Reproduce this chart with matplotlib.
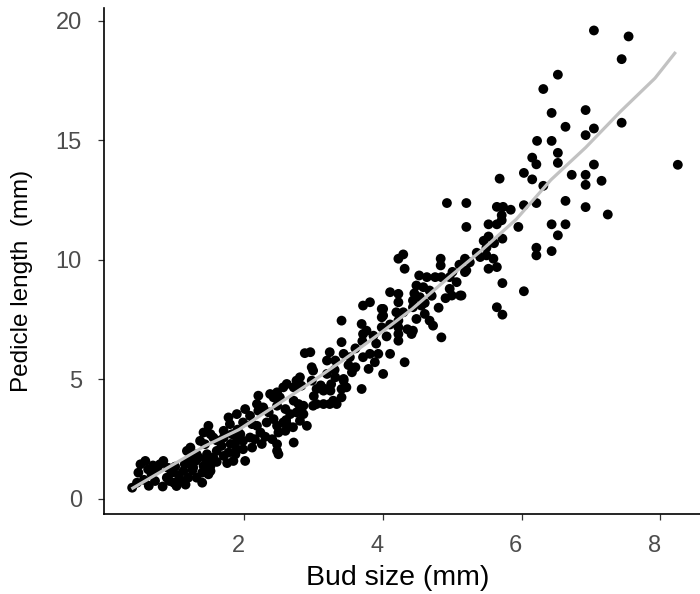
import matplotlib
matplotlib.use("Agg")
import matplotlib.pyplot as plt
import matplotlib.transforms as mtransforms

# Bud size (mm) and pedicle length (mm)
points = [
    (7.04,19.6),(7.54,19.35),(7.44,18.4),(6.52,17.75),(6.31,17.15),(6.43,16.15),(6.92,16.27),(6.63,15.57),
    (7.04,15.5),(6.92,15.22),(7.44,15.74),(6.22,14.98),(6.43,14.98),(6.52,14.48),(6.52,14.06),(6.15,14.28),
    (6.21,14.0),(7.04,13.99),(8.25,13.98),(6.03,13.64),(6.15,13.37),(6.72,13.56),(6.92,13.56),(6.92,13.14),
    (7.15,13.31),(6.31,13.1),(5.68,13.4),(6.03,12.29),(6.21,12.38),(6.63,12.47),(6.92,12.21),(7.24,11.9),
    (5.95,11.38),(6.43,11.49),(6.63,11.49),(6.52,11.03),
    (5.2,12.38),(5.64,12.22),(5.73,12.22),(5.84,12.1),(5.71,11.87),(5.71,11.66),(5.2,11.38),(5.52,11.49),
    (5.64,11.49),(5.52,10.98),(5.72,10.89),(6.21,10.51),(6.21,10.19),(6.43,10.37),(5.49,10.51),(5.49,10.19),
    (5.59,10.05),(5.64,9.7),(5.52,9.63),(5.4,10.12),(5.18,10.05),(5.18,9.49),(5.25,9.9),(5.72,9.03),
    (6.03,8.69),(5.13,8.51),(5.64,8.02),(5.72,7.71),(4.92,12.38),
    (4.29,10.23),(4.22,10.05),(4.31,9.63),(4.83,10.05),(4.83,9.77),
    (4.52,9.35),(4.63,9.28),(4.75,9.28),(4.84,9.28),(4.48,8.93),(4.58,8.86),(4.67,8.72),(4.53,8.44),(4.43,8.3),
    (4.96,9.28),(5.06,9.07),(4.96,8.79),(4.99,8.51),(5.11,8.51),(5.2,9.56),
    (4.1,8.65),(4.22,8.58),(4.22,8.23),(4.29,7.81),(4.19,7.81),(4.0,7.95),(4.0,7.67),(4.22,7.46),
    (4.43,8.02),(4.55,8.09),(4.6,7.74),(4.48,7.53),(4.67,7.46),(4.72,7.25),(4.43,7.04),(4.22,6.9),(4.84,6.76),
    (3.4,7.46),(3.71,8.09),(3.81,8.23),(3.98,7.95),(3.98,7.6),
    (3.69,7.32),(3.76,7.04),(3.71,6.9),(3.86,6.83),(3.98,7.18),(4.22,7.18),(4.22,6.62),(4.41,6.9),
    (3.4,6.56),(3.23,6.14),(3.19,5.79),(3.31,5.79),(3.43,6.07),(3.52,5.93),(3.6,5.51),(3.71,5.93),
    (3.81,6.07),(3.93,6.07),(3.88,5.72),(3.79,5.44),(4.0,5.23),(4.1,6.07),(4.31,5.72),
    (3.19,5.23),(3.31,5.09),(3.43,5.02),(3.4,4.6),(3.47,4.67),(3.16,4.6),(3.14,4.53),(3.69,4.6),(3.55,5.3),(3.4,4.25),
    (2.95,6.14),(2.87,6.1),(2.97,5.51),(2.99,5.37),(2.8,5.09),(2.75,4.95),(2.97,4.95),(2.71,4.67),(2.61,4.81),(2.56,4.67),
    (3.43,4.95),(3.28,4.11),(3.14,3.97),(2.99,3.9),(2.85,3.9),(2.71,4.11),(2.59,3.76),(2.66,3.55),(2.8,3.27),(2.9,3.06),(2.61,3.13),
    (2.2,4.32),(2.47,4.46),(2.42,4.25),(2.51,4.25),(2.82,4.74),(3.04,4.6),(3.24,4.53),
    (2.78,3.97),(3.04,3.97),(3.23,3.97),(3.33,3.97),
    (2.75,3.62),(2.85,3.55),(2.56,3.2),
    (2.01,3.76),(1.89,3.55),(2.08,3.48),(2.2,3.69),(2.27,3.83),(2.35,3.62),(2.42,3.34),(2.32,3.2),(2.18,3.06),
    (2.23,2.78),(2.08,2.57),(1.98,2.43),(1.89,2.43),(2.11,2.15),(1.98,2.08),(1.87,1.87),(2.01,1.59),(2.47,3.06),
    (2.49,2.78),(2.59,2.85),(2.71,2.36),(2.47,2.01),
    (2.37,4.39),(2.18,3.97),(1.98,3.2),(2.11,3.13),(2.47,3.9),(2.47,2.29),(2.49,1.87),
    (1.77,3.41),(1.79,3.13),(1.7,2.85),(1.7,2.57),(1.82,2.71),(1.94,2.71),(1.89,2.08),(1.84,1.59),(1.77,1.94),
    (1.67,2.22),(1.55,2.57),(1.48,3.06),(1.41,2.78),(1.36,2.43),(1.43,2.29),(1.46,1.87),(1.34,1.73),(1.22,2.15),
    (1.17,2.01),(1.15,1.52),(1.26,1.31),(1.41,1.38),(1.51,1.17),(1.48,1.03),
    (0.38,0.47),(0.45,0.68),(0.47,1.1),(0.5,1.45),(0.57,1.59),(0.61,1.24),(0.66,1.03),(0.74,1.24),(0.78,1.45),
    (0.83,1.59),(0.71,0.75),(0.88,0.89),(0.95,1.1),(0.98,0.68),(1.02,0.54),(1.07,0.82),(1.12,1.17),(1.14,1.45),
    (1.22,1.45),(1.24,1.73),(1.31,1.87),(1.51,2.71),(1.51,1.38),(1.55,1.73),(1.6,2.01),(1.19,0.89),(1.31,0.89),
    (1.39,0.68),(1.39,1.1),
    (0.55,0.8),(0.62,0.55),(0.82,0.52),(0.92,0.75),(1.05,1.0),(1.15,0.6),(0.68,1.4),(0.9,1.3),(1.25,1.2),
    (1.0,1.35),(1.3,1.6),(1.45,1.6),(1.6,1.55),(1.7,1.8),(1.75,1.5),(1.6,2.45),(1.8,2.3),(1.9,2.9),(2.15,2.5),
    (2.3,2.6),(2.25,2.3),(2.4,2.5),(2.6,3.3),(2.7,3.0),(2.8,3.7),(3.0,4.3),(3.1,4.75),(3.25,4.8),(3.3,5.4),
    (3.5,5.6),(3.6,6.3),(3.7,6.6),(3.9,6.5),(4.05,6.8),(4.1,7.3),(4.35,7.1),(4.45,8.6),(4.6,8.2),(4.7,8.5),
    (4.8,8.0),(4.9,8.4),(5.0,9.5),(5.1,9.8),(5.35,10.3),(5.45,10.8),(5.6,10.7),
]
bud_size = [p[0] for p in points]
pedicle_length = [p[1] for p in points]

# smoothed trend (grey curve)
trend_x = [0.37, 0.92, 1.42, 1.92, 2.42, 2.92, 3.42, 3.92, 4.42, 4.92, 5.42, 5.92, 6.42, 6.92, 7.42, 7.92, 8.22]
trend_y = [0.42, 1.35, 2.2, 2.9, 3.85, 4.8, 5.8, 6.85, 7.95, 9.2, 10.4, 11.7, 13.35, 14.7, 16.2, 17.6, 18.7]

x_ticks = [2, 4, 6, 8]
y_ticks = [0, 5, 10, 15, 20]

plt.rcParams['font.family'] = ['Liberation Sans', 'DejaVu Sans']
fig = plt.figure(figsize=(7, 5.94), dpi=100)
ax = fig.add_axes([104/700, 80/594, 596/700, 506/594])
ax.scatter(bud_size, pedicle_length, s=50, c='black', edgecolors='none', zorder=2)
ax.plot(trend_x, trend_y, color='#C2C2C2', lw=2.3, zorder=3, solid_capstyle='butt')
ax.set_xlim(-0.026, 8.57)
ax.set_ylim(-0.63, 20.54)
ax.set_xticks(x_ticks)
ax.set_yticks(y_ticks)
for s in ['top', 'right']:
    ax.spines[s].set_visible(False)
for s in ['left', 'bottom']:
    ax.spines[s].set_linewidth(1.2)
    ax.spines[s].set_color('black')
ax.tick_params(axis='both', length=4, width=0.9, color='#333333', labelcolor='#4D4D4D', labelsize=17)
ax.tick_params(axis='x', pad=11)
ax.tick_params(axis='y', pad=12)
shift = mtransforms.ScaledTranslation(-6/100, 0, fig.dpi_scale_trans)
for lab in ax.get_xticklabels():
    lab.set_transform(lab.get_transform() + shift)
ax.set_xlabel('Bud size (mm)', fontsize=20.5)
ax.set_ylabel('Pedicle length  (mm)', fontsize=17.5)
ax.xaxis.set_label_coords((398 - 104) / 596, (514 - 578) / 506)
ax.yaxis.set_label_coords((22 - 104) / 596, (514 - 281) / 506)
ax.xaxis.label.set_va('center')
ax.yaxis.label.set_va('center')
fig.savefig('out.png', dpi=100)
